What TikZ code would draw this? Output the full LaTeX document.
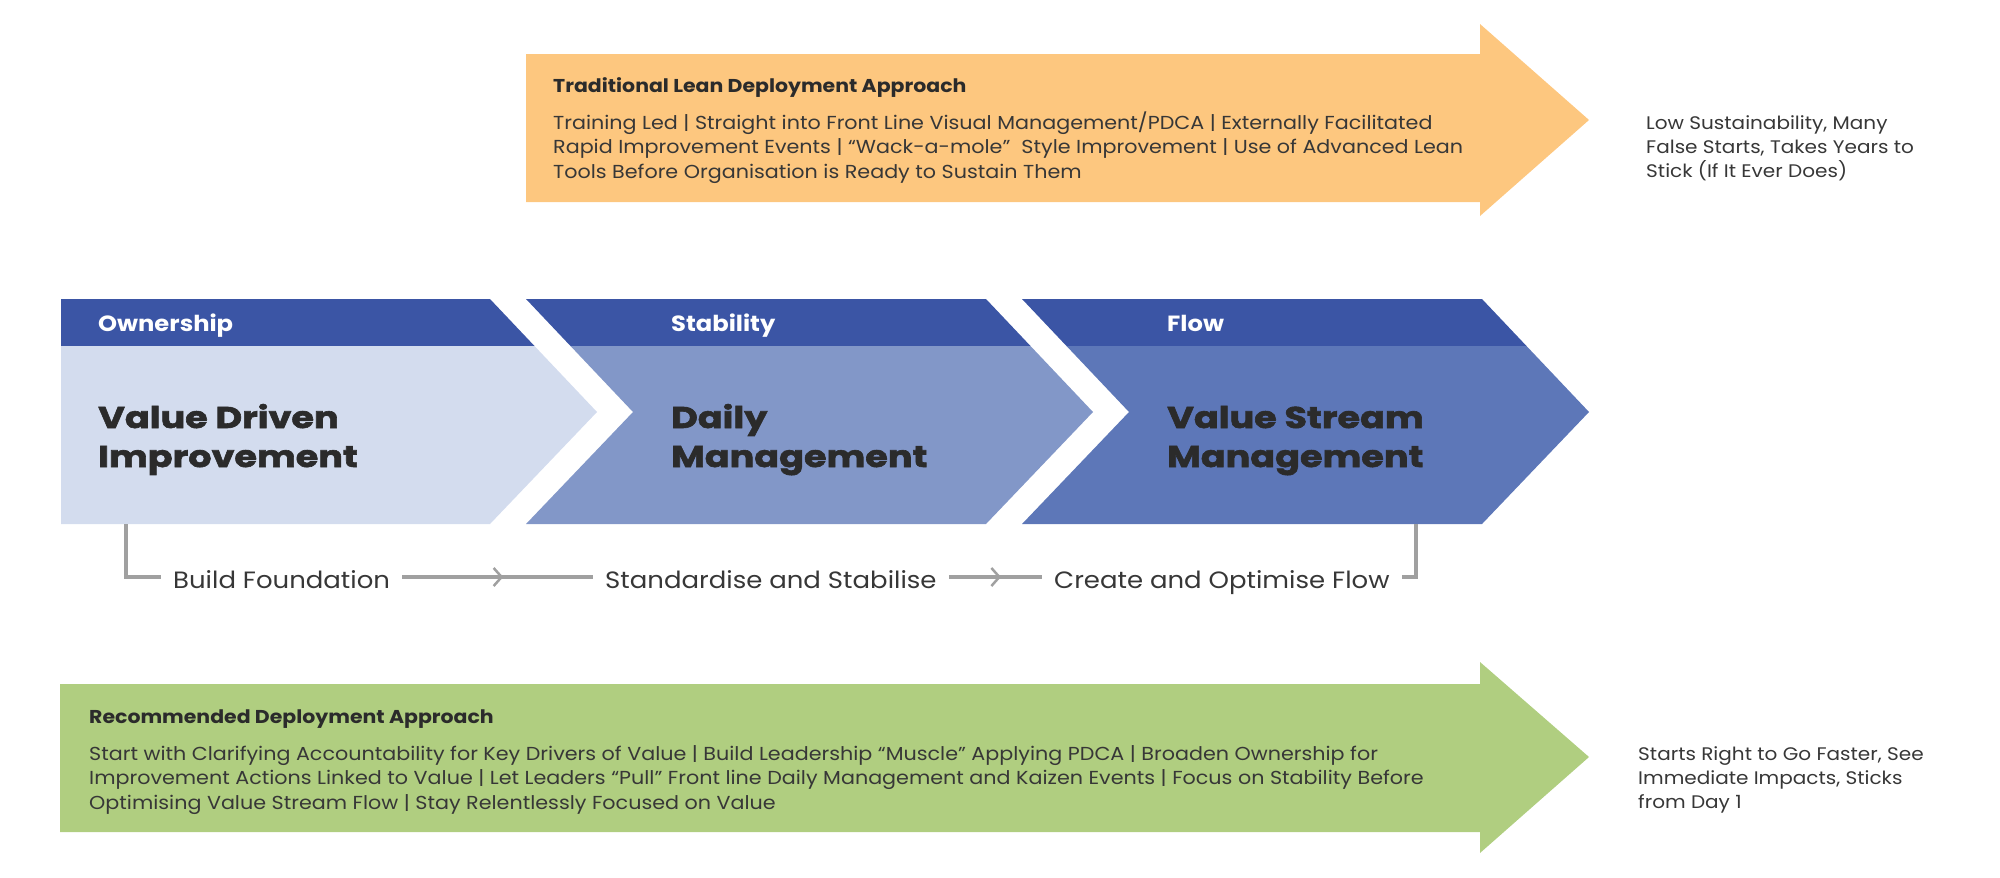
\documentclass[tikz,border=0pt]{standalone}
\usepackage{fontspec}
\setmainfont{Poppins}[FakeStretch=1.1]
\newfontfamily\heavyfont{Poppins}[FakeStretch=1.22, FakeBold=2]
\usetikzlibrary{decorations.markings}
\definecolor{orng}{RGB}{253,199,127}
\definecolor{grn}{RGB}{176,206,128}
\definecolor{hdr}{RGB}{59,85,165}
\definecolor{cA}{RGB}{211,220,238}
\definecolor{cB}{RGB}{130,151,200}
\definecolor{cC}{RGB}{93,119,184}
\definecolor{txt}{RGB}{55,55,55}
\definecolor{ttl}{RGB}{43,43,43}
\definecolor{lin}{RGB}{160,160,160}
\newcommand{\mylines}[1]{\begin{tabular}[t]{@{}l@{}}#1\end{tabular}}
\tikzset{
  bodytxt/.style={anchor=base west, inner sep=0pt, text=txt, font=\fontsize{18.8}{24.5}\selectfont},
  headtxt/.style={anchor=base west, inner sep=0pt, text=ttl, font=\fontsize{18.6}{24}\selectfont\bfseries},
  sidetxt/.style={anchor=base west, inner sep=0pt, text=txt, font=\fontsize{18.2}{24}\selectfont},
  bandtxt/.style={anchor=base west, inner sep=0pt, text=white, font=\fontsize{22}{26}\selectfont\bfseries},
  bigtxt/.style={anchor=base west, inner sep=0pt, text=ttl, font=\heavyfont\fontsize{30}{39}\selectfont\bfseries},
  flowtxt/.style={anchor=west, inner xsep=12pt, inner ysep=0pt, text height=22pt, text depth=0pt, text=txt, font=\fontsize{23.6}{28}\selectfont},
  flowline/.style={draw=lin, line width=3.5pt},
  midchev/.style={postaction={decorate}, decoration={markings, mark=at position 0.5 with {\draw[lin, line width=2.5pt] (-4,-9) -- (4,0) -- (-4,9);}}}
}
\begin{document}
\begin{tikzpicture}[x=1pt,y=-1pt]
\useasboundingbox (0,0) rectangle (2000,878);
% traditional arrow
\fill[orng] (526,54) -- (1480,54) -- (1480,24) -- (1589,120) -- (1480,216) -- (1480,202) -- (526,202) -- cycle;
\node[headtxt] (tradT) at (553,92) {Traditional Lean Deployment Approach};
\node[bodytxt] (tradB) at (553,129) {\mylines{Training Led | Straight into Front Line Visual Management/PDCA | Externally Facilitated\\Rapid Improvement Events | “Wack-a-mole”\ \ Style Improvement | Use of Advanced Lean\\Tools Before Organisation is Ready to Sustain Them}};
\node[sidetxt] (tradR) at (1646,129) {\mylines{Low Sustainability, Many\\False Starts, Takes Years to\\Stick (If It Ever Does)}};
% recommended arrow
\fill[grn] (60,684) -- (1480,684) -- (1480,662) -- (1589,757) -- (1480,853) -- (1480,832) -- (60,832) -- cycle;
\node[headtxt] (recT) at (89,723) {Recommended Deployment Approach};
\node[bodytxt] (recB) at (89,760) {\mylines{Start with Clarifying Accountability for Key Drivers of Value | Build Leadership “Muscle” Applying PDCA | Broaden Ownership for\\Improvement Actions Linked to Value | Let Leaders “Pull” Front line Daily Management and Kaizen Events | Focus on Stability Before\\Optimising Value Stream Flow | Stay Relentlessly Focused on Value}};
\node[sidetxt] (recR) at (1638,760) {\mylines{Starts Right to Go Faster, See\\Immediate Impacts, Sticks\\from Day 1}};
% chevron 1
\fill[hdr] (61,299) -- (490,299) -- (534.5,346) -- (61,346) -- cycle;
\fill[cA] (61,346) -- (534.5,346) -- (597,412) -- (490,524) -- (61,524) -- cycle;
% chevron 2
\fill[hdr] (526,299) -- (986,299) -- (1030.5,346) -- (570.5,346) -- cycle;
\fill[cB] (570.5,346) -- (1030.5,346) -- (1093,412) -- (986,524) -- (526,524) -- (633,412) -- cycle;
% chevron 3
\fill[hdr] (1022,299) -- (1482,299) -- (1526.5,346) -- (1066.5,346) -- cycle;
\fill[cC] (1066.5,346) -- (1526.5,346) -- (1589,412) -- (1482,524) -- (1022,524) -- (1129,412) -- cycle;
% chevron texts
\node[bandtxt] (own) at (98,331) {Ownership};
\node[bandtxt] (stab) at (671,331) {Stability};
\node[bandtxt] (flw) at (1167,331) {Flow};
\node[bigtxt] (vdi) at (98,428) {\mylines{Value Driven\\Improvement}};
\node[bigtxt] (dm) at (671,428) {\mylines{Daily\\Management}};
\node[bigtxt] (vsm) at (1167,428) {\mylines{Value Stream\\Management}};
% flow line
\coordinate (c1b) at (126,524);
\coordinate (c3b) at (1416,524);
\node[flowtxt] (bf) at (161,577) {Build Foundation};
\node[flowtxt] (ss) at (593,577) {Standardise and Stabilise};
\node[flowtxt] (cof) at (1042,577) {Create and Optimise Flow};
\draw[flowline] (c1b) |- (bf.west);
\draw[flowline, midchev] (bf.east) -- (ss.west);
\draw[flowline, midchev] (ss.east) -- (cof.west);
\draw[flowline] (cof.east) -| (c3b);
\end{tikzpicture}
\end{document}
